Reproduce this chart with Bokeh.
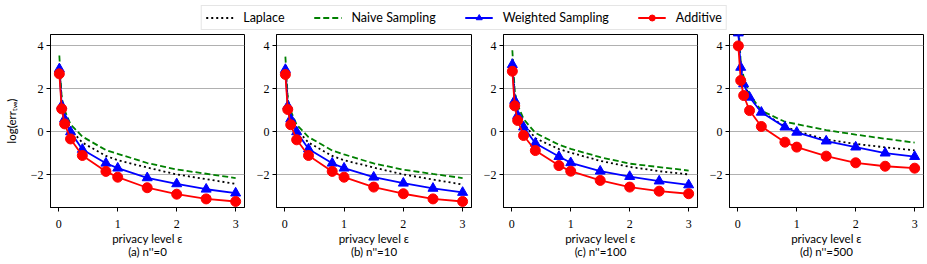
from bokeh.plotting import figure
from bokeh.layouts import column, row
from bokeh.models import (Range1d, FixedTicker, CustomJSTickFormatter, Legend,
                          LegendItem, ColumnDataSource)
from bokeh.embed import file_html
from bokeh.resources import INLINE

# ---------------- data ----------------
eps = [0.01, 0.05, 0.1, 0.2, 0.4, 0.8, 1.0, 1.5, 2.0, 2.5, 3.0]

laplace_a = [3.1, 1.45, 0.8, 0.12, -0.5, -1.12, -1.32, -1.66, -1.98, -2.2, -2.42]
naive_a = [3.55, 1.6, 1.0, 0.35, -0.22, -0.85, -1.02, -1.45, -1.75, -1.95, -2.15]
weighted_a = [2.93, 1.22, 0.6, 0.0, -0.82, -1.46, -1.69, -2.14, -2.42, -2.67, -2.85]
additive_a = [2.70, 1.07, 0.37, -0.33, -1.10, -1.84, -2.11, -2.60, -2.90, -3.12, -3.24]

laplace_b = [3.1, 1.45, 0.8, 0.12, -0.5, -1.12, -1.32, -1.66, -1.98, -2.22, -2.45]
naive_b = [3.5, 1.58, 0.98, 0.33, -0.24, -0.87, -1.05, -1.47, -1.76, -1.96, -2.15]
weighted_b = [2.9, 1.2, 0.6, 0.0, -0.8, -1.46, -1.69, -2.11, -2.39, -2.63, -2.82]
additive_b = [2.67, 1.04, 0.33, -0.37, -1.10, -1.84, -2.11, -2.57, -2.88, -3.12, -3.24]

laplace_c = [3.4, 1.7, 1.05, 0.4, -0.3, -0.8, -0.97, -1.35, -1.63, -1.83, -1.98]
naive_c = [3.8, 1.9, 1.25, 0.6, -0.05, -0.6, -0.79, -1.18, -1.48, -1.64, -1.8]
weighted_c = [3.13, 1.46, 0.76, 0.22, -0.53, -1.15, -1.44, -1.83, -2.08, -2.29, -2.47]
additive_c = [2.82, 1.21, 0.53, -0.17, -0.87, -1.57, -1.83, -2.26, -2.57, -2.76, -2.88]

laplace_d = [4.7, 3.05, 2.3, 1.66, 0.94, 0.25, 0.03, -0.36, -0.56, -0.72, -0.86]
naive_d = [5.2, 3.25, 2.55, 1.75, 0.98, 0.47, 0.36, 0.08, -0.13, -0.32, -0.5]
weighted_d = [4.6, 3.0, 2.23, 1.61, 0.91, 0.22, -0.02, -0.43, -0.71, -0.99, -1.15]
additive_d = [4.0, 2.39, 1.69, 0.99, 0.25, -0.48, -0.71, -1.13, -1.44, -1.60, -1.69]

captions = ["(a) n''=0", "(b) n''=10", "(c) n''=100", "(d) n''=500"]
series_names = ["Laplace", "Naive Sampling", "Weighted Sampling", "Additive"]
x_ticks = [0, 1, 2, 3]
y_ticks = [-2, 0, 2, 4]
x_label = "privacy level \u03b5"
y_label = "log(err\u209c\u1d65\u2091)"

panels = [
    (laplace_a, naive_a, weighted_a, additive_a),
    (laplace_b, naive_b, weighted_b, additive_b),
    (laplace_c, naive_c, weighted_c, additive_c),
    (laplace_d, naive_d, weighted_d, additive_d),
]

SANS = "Lato"
SERIF = "Liberation Serif"

fmt = CustomJSTickFormatter(code="return (tick < 0 ? '\u2212' + Math.abs(tick) : '' + tick);")

LEFT = [50, 28, 28, 28]
RIGHT = [4, 4, 4, 4]
FRAME_W = [194, 195, 194, 194]
PANEL_H = 233
TOP = 3
BOTTOM = 57


def style_lines(p, src):
    p.line("x", "lap", source=src, color="black", line_width=1.8, line_dash="2 3")
    p.line("x", "nai", source=src, color="green", line_width=1.8, line_dash="6 3")
    p.line("x", "wei", source=src, color="blue", line_width=1.8)
    p.scatter("x", "wei", source=src, marker="triangle", size=10, color="blue")
    p.line("x", "add", source=src, color="red", line_width=1.8)
    p.scatter("x", "add", source=src, marker="circle", size=10, color="red")
    return p.renderers


def make_panel(i, lap, nai, wei, add):
    p = figure(width=LEFT[i] + FRAME_W[i] + RIGHT[i], height=PANEL_H,
               output_backend="svg", toolbar_location=None,
               x_range=Range1d(-0.14, 3.15), y_range=Range1d(-3.52, 4.53),
               min_border_left=LEFT[i], min_border_right=RIGHT[i],
               min_border_top=TOP, min_border_bottom=BOTTOM)
    p.background_fill_color = "white"
    p.border_fill_color = "white"
    p.outline_line_color = "black"
    p.outline_line_width = 1
    p.outline_line_alpha = 1
    p.xgrid.visible = False
    p.ygrid.grid_line_color = "#b0b0b0"
    p.ygrid.grid_line_width = 1
    p.xaxis.ticker = FixedTicker(ticks=x_ticks)
    p.yaxis.ticker = FixedTicker(ticks=y_ticks)
    p.yaxis.formatter = fmt
    for ax in (p.xaxis, p.yaxis):
        ax.axis_line_color = "black"
        ax.major_tick_line_color = "black"
        ax.major_tick_out = 4
        ax.major_tick_in = 0
        ax.minor_tick_line_color = None
        ax.major_label_text_font = SERIF
        ax.major_label_text_font_size = "12px"
        ax.major_label_text_color = "black"
        ax.axis_label_text_font = SANS
        ax.axis_label_text_font_size = "11.5px"
        ax.axis_label_text_font_style = "normal"
        ax.axis_label_text_color = "black"
    p.xaxis.major_label_standoff = 8
    p.yaxis.major_label_standoff = 3
    p.xaxis.axis_label = x_label + "\n" + captions[i]
    p.xaxis.axis_label_text_line_height = 1.02
    p.xaxis.axis_label_text_align = "center"
    p.xaxis.axis_label_standoff = 1
    if i == 0:
        p.yaxis.axis_label = y_label
        p.yaxis.axis_label_standoff = 10

    src = ColumnDataSource(dict(x=eps, lap=lap, nai=nai, wei=wei, add=add))
    style_lines(p, src)
    return p


figs = [make_panel(i, *panels[i]) for i in range(4)]

# legend strip (its glyphs sit outside the strip's visible range)
lg = figure(width=927, height=31, output_backend="svg", toolbar_location=None,
            x_range=Range1d(100, 101), y_range=Range1d(100, 101),
            min_border=0)
lg.axis.visible = False
lg.grid.visible = False
lg.outline_line_color = None
lsrc = ColumnDataSource(dict(x=eps, lap=laplace_a, nai=naive_a, wei=weighted_a, add=additive_a))
r = style_lines(lg, lsrc)
legend = Legend(items=[
    LegendItem(label=series_names[0], renderers=[r[0]]),
    LegendItem(label=series_names[1], renderers=[r[1]]),
    LegendItem(label=series_names[2], renderers=[r[2], r[3]]),
    LegendItem(label=series_names[3], renderers=[r[4], r[5]]),
], orientation="horizontal", location="top", margin=5,
    glyph_width=28, glyph_height=15, label_standoff=10, spacing=29,
    padding=4, label_text_font=SANS, label_text_font_size="12.5px",
    label_text_color="black", border_line_color="#cccccc", border_line_width=1,
    background_fill_color="white", background_fill_alpha=1)
lg.add_layout(legend, "center")

layout = column(lg, row(*figs))
open("out.html", "w").write(file_html(layout, INLINE))
